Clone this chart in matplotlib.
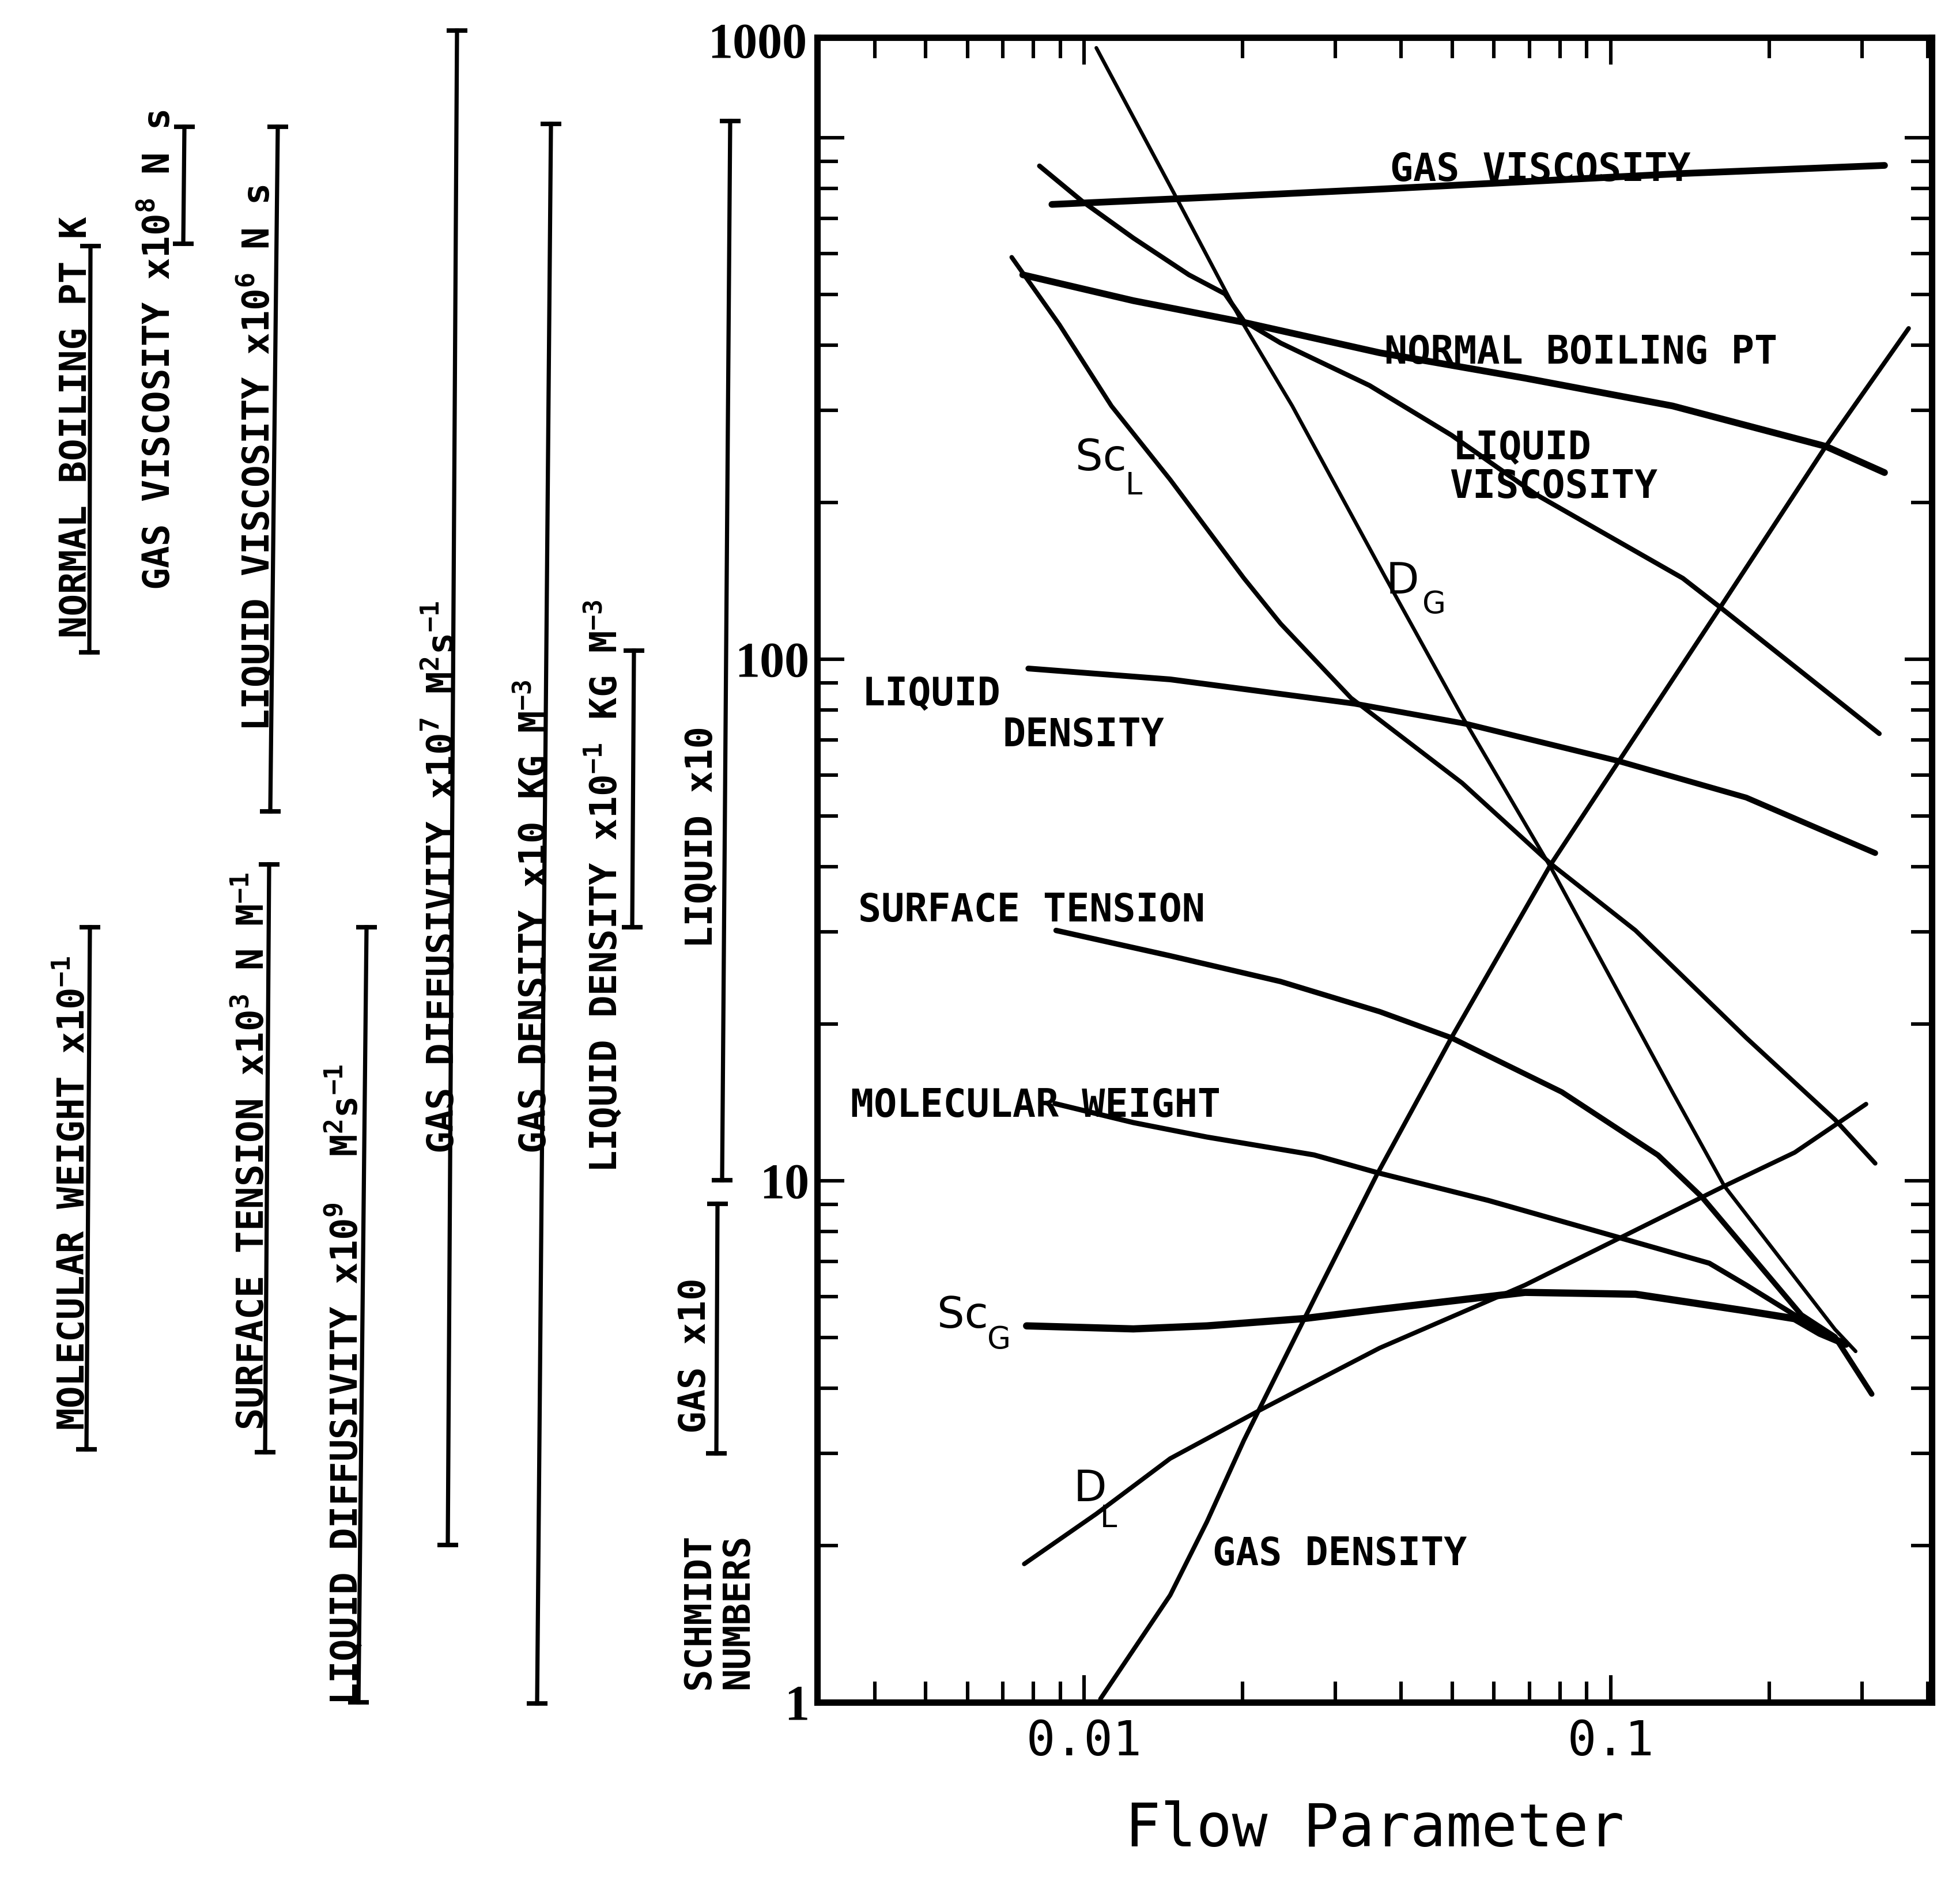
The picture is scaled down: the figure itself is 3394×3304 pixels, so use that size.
"""Nomograph of physical-property scales against flow parameter (redraw of a scanned chart)."""

import matplotlib
matplotlib.use("Agg")
import matplotlib.pyplot as plt
from matplotlib.ticker import LogLocator, NullFormatter

plt.rcParams["font.family"] = ["DejaVu Sans Mono", "DejaVu Sans"]
plt.rcParams["mathtext.fontset"] = "custom"
plt.rcParams["mathtext.rm"] = "DejaVu Sans Mono:bold"
plt.rcParams["mathtext.it"] = "DejaVu Sans Mono:bold"
plt.rcParams["mathtext.bf"] = "DejaVu Sans Mono:bold"
plt.rcParams["mathtext.default"] = "rm"

# ---- curves: x = flow parameter, y = reading on the log scale ----
gas_visc_x = [0.00868, 0.0174, 0.0364, 0.137, 0.331]
gas_visc_y = [745, 769, 797, 854, 885]

boiling_x = [0.00764, 0.0124, 0.0198, 0.0364, 0.0687, 0.131, 0.256, 0.331]
boiling_y = [546, 487, 444, 387, 346, 306, 256, 228]

liq_visc_x = [0.00822, 0.0099, 0.0124, 0.0158, 0.0185, 0.0201, 0.0236, 0.0348,
              0.0498, 0.0721, 0.137, 0.161, 0.3235]
liq_visc_y = [883, 756, 642, 546, 502, 445, 404, 335, 269, 207, 143, 126, 72]

dg_x = [0.01054, 0.01482, 0.01979, 0.02483, 0.03725, 0.0522, 0.0770, 0.1309,
        0.1643, 0.2665, 0.2917]
dg_y = [1487, 781, 449, 306, 144, 77.7, 39.8, 14.8, 9.77, 5.19, 4.71]

gas_dens_x = [0.01073, 0.01456, 0.0171, 0.0201, 0.02178, 0.02773, 0.03596, 0.0498,
              0.0770, 0.1614, 0.256, 0.3678]
gas_dens_y = [1.015, 1.605, 2.22, 3.18, 3.746, 6.11, 10.28, 18.8, 40.5, 125.8, 256, 431]

scl_x = [0.00728, 0.00897, 0.01126, 0.01456, 0.0201, 0.0236, 0.0321, 0.0522,
         0.0770, 0.1114, 0.1808, 0.2665, 0.3178]
scl_y = [590, 438, 306, 221, 143, 117, 84.3, 57.9, 40.5, 30.2, 18.8, 13.1, 10.8]

liq_dens_x = [0.00783, 0.01456, 0.0326, 0.0531, 0.1028, 0.1808, 0.3178]
liq_dens_y = [96.0, 91.5, 82.2, 75.2, 63.9, 54.3, 42.5]

surf_x = [0.00884, 0.01456, 0.0236, 0.0364, 0.0498, 0.0807, 0.1229, 0.1489,
          0.2301, 0.2665, 0.313]
surf_y = [30.2, 27.0, 24.1, 21.1, 18.8, 14.8, 11.2, 9.31, 5.53, 5.02, 3.90]

mw_x = [0.0088, 0.01239, 0.0171, 0.0273, 0.0361, 0.0585, 0.098, 0.1538, 0.1808,
        0.2234, 0.254]
mw_y = [14.06, 12.93, 12.13, 11.21, 10.36, 9.17, 7.91, 6.95, 6.31, 5.53, 5.07]

scg_x = [0.00777, 0.01239, 0.0171, 0.0260, 0.0364, 0.0687, 0.1114, 0.1808,
         0.2234, 0.2495, 0.2795]
scg_y = [5.27, 5.20, 5.27, 5.44, 5.67, 6.11, 6.06, 5.63, 5.44, 5.10, 4.86]

dl_x = [0.00769, 0.01054, 0.01456, 0.02146, 0.0364, 0.0687, 0.1046, 0.1643,
        0.2234, 0.3053]
dl_y = [1.842, 2.298, 2.934, 3.624, 4.78, 6.31, 7.79, 9.77, 11.33, 14.03]

x_ticks = [0.01, 0.1]
x_ticklabels = ["0.01", "0.1"]
y_ticks = [1, 10, 100, 1000]
y_ticklabels = ["1", "10", "100", ""]

# ---- layout (output pixels, y measured from the top) ----
W, H, DPI = 3394, 3304, 200

# left-hand property scales: (x_top, y_top, x_bottom, y_bottom)
SCALE_BARS = [
    (157, 427, 155, 1132),     # normal boiling pt
    (320, 220, 318, 423),      # gas viscosity
    (482, 220, 469, 1408),     # liquid viscosity
    (467, 1500, 460, 2520),    # surface tension
    (636, 1609, 622, 2954),    # liquid diffusivity
    (793, 53, 777, 2681),      # gas diffusivity
    (956, 215, 932, 2956),     # gas density
    (1100, 1129, 1097, 1609),  # liquid density
    (1267, 210, 1253, 2048),   # liquid schmidt
    (1245, 2089, 1243, 2522),  # gas schmidt
    (156, 1609, 150, 2515),    # molecular weight
]

# rotated scale titles: (text, baseline x, start y)
SCALE_TEXT = [
    ("NORMAL BOILING PT K", 150, 1107),
    (r"GAS VISCOSITY x10$^8$ N s", 295, 1024),
    (r"LIQUID VISCOSITY x10$^6$ N s", 467, 1269),
    (r"SURFACE TENSION x10$^3$ N M$^{-1}$", 458, 2482),
    (r"LIQUID DIFFUSIVITY x10$^9$  M$^2$s$^{-1}$", 620, 2959),
    (r"GAS DIFFUSIVITY x10$^7$ M$^2$s$^{-1}$", 788, 2002),
    (r"GAS DENSITY x10 KG M$^{-3}$", 948, 2002),
    (r"LIQUID DENSITY x10$^{-1}$ KG M$^{-3}$", 1070, 2035),
    ("LIQUID x10", 1236, 1645),
    ("GAS x10", 1224, 2487),
    ("SCHMIDT", 1231, 2931),
    ("NUMBERS", 1298, 2931),
    (r"MOLECULAR WEIGHT x10$^{-1}$", 147, 2482),
]

# curve names inside the plot: (text, x, baseline y)
CURVE_TEXT = [
    ("GAS VISCOSITY", 2412, 314),
    ("NORMAL BOILING PT", 2402, 631),
    ("LIQUID", 2521, 797),
    ("VISCOSITY", 2515, 864),
    ("LIQUID", 1496, 1224),
    ("DENSITY", 1739, 1295),
    ("SURFACE TENSION", 1489, 1599),
    ("MOLECULAR WEIGHT", 1476, 1938),
    ("GAS DENSITY", 2104, 2716),
]

# symbol labels: (main, subscript, x, y, x_sub, y_sub)
SYMBOL_TEXT = [
    ("Sc", "L", 1866, 816, 1953, 858),
    ("D", "G", 2405, 1030, 2468, 1064),
    ("Sc", "G", 1626, 2304, 1713, 2340),
    ("D", "L", 1863, 2605, 1909, 2650),
]

fig = plt.figure(figsize=(W / DPI, H / DPI), dpi=DPI)
ax = fig.add_axes([1418 / W, 1 - 2954 / H, (3352 - 1418) / W, (2954 - 65) / H])

curves = [
    (gas_visc_x, gas_visc_y, 4.2),
    (boiling_x, boiling_y, 4.2),
    (liq_visc_x, liq_visc_y, 3.0),
    (dg_x, dg_y, 2.3),
    (gas_dens_x, gas_dens_y, 2.8),
    (scl_x, scl_y, 2.8),
    (liq_dens_x, liq_dens_y, 3.6),
    (surf_x, surf_y, 3.4),
    (mw_x, mw_y, 3.2),
    (scg_x, scg_y, 4.5),
    (dl_x, dl_y, 2.8),
]
for cx, cy, lw in curves:
    ax.plot(cx, cy, color="black", lw=lw, solid_capstyle="round", solid_joinstyle="round")

ax.set_xscale("log")
ax.set_yscale("log")
ax.set_xlim(0.00311, 0.407)
ax.set_ylim(1, 1557)

ax.set_xticks(x_ticks, x_ticklabels)
ax.set_yticks(y_ticks, y_ticklabels)
for axis in (ax.xaxis, ax.yaxis):
    axis.set_minor_locator(LogLocator(base=10, subs=range(2, 10), numticks=20))
    axis.set_minor_formatter(NullFormatter())

ax.tick_params(which="major", direction="in", length=17, width=2.2, top=True, right=True)
ax.tick_params(which="minor", direction="in", length=13, width=2.2, top=True, right=True)
ax.tick_params(axis="x", pad=10, labelsize=30)
ax.tick_params(axis="y", pad=5)
for t in ax.get_yticklabels():
    t.set_fontfamily("Liberation Serif")
    t.set_fontweight("bold")
    t.set_fontsize(31)

for sp in ax.spines.values():
    sp.set_linewidth(4)

ax.set_xlabel("Flow Parameter", fontsize=37, labelpad=22)

# overlay in pixel coordinates for the nomograph scales and labels
ov = fig.add_axes([0, 0, 1, 1])
ov.set_xlim(0, W)
ov.set_ylim(H, 0)
ov.axis("off")
ov.patch.set_alpha(0)

for xt, yt, xb, yb in SCALE_BARS:
    ov.plot([xt, xb], [yt, yb], color="black", lw=2.6, marker="_", ms=13, mew=2.8)

for s, x, y in SCALE_TEXT:
    ov.text(x, y, s, rotation=90, rotation_mode="anchor", ha="left", va="baseline",
            fontsize=23, fontweight="bold")

for s, x, y in CURVE_TEXT:
    ov.text(x, y, s, ha="left", va="baseline", fontsize=24, fontweight="bold")

for main, sub, x, y, xs, ys in SYMBOL_TEXT:
    ov.text(x, y, main, ha="left", va="baseline", fontsize=27, family="DejaVu Sans")
    ov.text(xs, ys, sub, ha="left", va="baseline", fontsize=19, family="DejaVu Sans")

ov.text(1400, 79, "1000", ha="right", va="center", fontsize=31,
        family="Liberation Serif", fontweight="bold")

fig.savefig("out.png", dpi=DPI)
